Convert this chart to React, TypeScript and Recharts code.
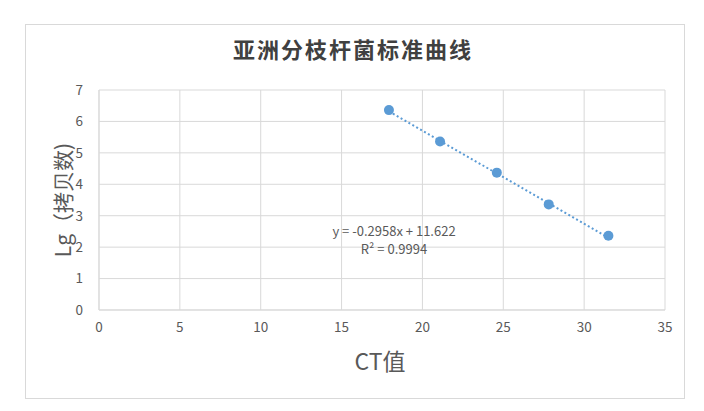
import React from 'react';
import {
  ScatterChart,
  Scatter,
  XAxis,
  YAxis,
  CartesianGrid
} from 'recharts';

// CT values vs log copy number
const ctValues = [17.93, 21.09, 24.6, 27.81, 31.5];
const lgCopies = [6.36, 5.36, 4.37, 3.36, 2.36];

// linear trendline end points
const trendX = [17.93, 31.5];
const trendY = [6.32, 2.3];

const xTicks = [0, 5, 10, 15, 20, 25, 30, 35];
const yTicks = [0, 1, 2, 3, 4, 5, 6, 7];

const title = '亚洲分枝杆菌标准曲线';
const equation = 'y = -0.2958x + 11.622';
const rSquared = 'R² = 0.9994';

const points = ctValues.map((x, i) => ({ x, y: lgCopies[i] }));
const trend = trendX.map((x, i) => ({ x, y: trendY[i] }));

const blue = '#5b9bd5';
const gray = '#d9d9d9';
const textColor = '#595959';
const font = '"Noto Sans CJK SC", "Open Sans", sans-serif';

const App: React.FC = () => {
  return (
    <div style={{ position: 'absolute', left: 0, top: 0, width: 704, height: 411, background: '#fff', fontFamily: font }}>
      <div
        style={{
          position: 'absolute',
          left: 25,
          top: 24,
          width: 658,
          height: 373,
          border: `1px solid ${gray}`
        }}
      />
      <div
        style={{
          position: 'absolute',
          left: 0,
          width: 706,
          top: 32,
          textAlign: 'center',
          fontSize: 22,
          fontWeight: 'bold',
          color: '#404040',
          letterSpacing: 2
        }}
      >
        {title}
      </div>
      <ScatterChart
        width={704}
        height={411}
        margin={{ top: 90, right: 39, bottom: 71, left: 69 }}
        style={{ position: 'absolute', left: 0, top: 0 }}
      >
        <CartesianGrid stroke={gray} strokeWidth={1} />
        <XAxis
          type="number"
          dataKey="x"
          domain={[0, 35]}
          ticks={xTicks}
          axisLine={{ stroke: gray }}
          tickLine={false}
          tick={{ fill: textColor, fontSize: 13.5, fontFamily: font }}
          tickMargin={6}
        />
        <YAxis
          type="number"
          dataKey="y"
          domain={[0, 7]}
          ticks={yTicks}
          width={30}
          axisLine={{ stroke: gray }}
          tickLine={false}
          tick={{ fill: textColor, fontSize: 13.5, fontFamily: font }}
          tickMargin={10}
        />
        <Scatter
          data={trend}
          line={{ stroke: blue, strokeWidth: 2, strokeDasharray: '2 2.5' }}
          shape={() => null}
          isAnimationActive={false}
        />
        <Scatter data={points} fill={blue} isAnimationActive={false} shape={(p: any) => <circle cx={p.cx} cy={p.cy} r={5} fill={blue} />} />
      </ScatterChart>
      <div
        style={{
          position: 'absolute',
          left: 294,
          width: 200,
          top: 222,
          textAlign: 'center',
          fontSize: 13,
          lineHeight: '18px',
          color: textColor
        }}
      >
        <div>{equation}</div>
        <div>{rSquared}</div>
      </div>
      <div
        style={{
          position: 'absolute',
          left: 280,
          width: 200,
          top: 343,
          textAlign: 'center',
          fontSize: 23,
          color: textColor
        }}
      >
        CT值
      </div>
      <div
        style={{
          position: 'absolute',
          left: 62,
          top: 200,
          transform: 'translate(-50%, -50%) rotate(-90deg)',
          whiteSpace: 'nowrap',
          fontSize: 21,
          color: textColor
        }}
      >
        Lg（拷贝数)
      </div>
    </div>
  );
};

export default App;
